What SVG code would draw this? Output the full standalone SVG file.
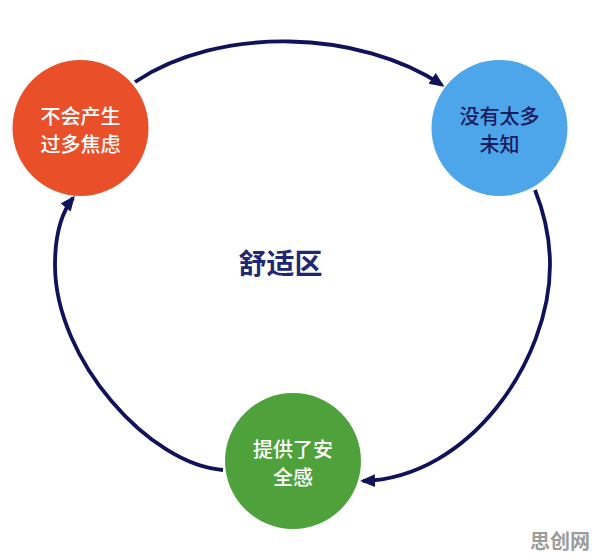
<svg xmlns="http://www.w3.org/2000/svg" width="596" height="559" viewBox="0 0 596 559">
<style>
.t{font-family:"Noto Sans CJK SC","Noto Sans",sans-serif;font-size:20px;font-weight:500;text-anchor:middle;dominant-baseline:central}
.w{fill:#ffffff}
.n{fill:#171c5e}
.c{fill:none;stroke:#10135a;stroke-width:3.8;stroke-linecap:butt}
</style>
<defs>
<marker id="ah" markerUnits="userSpaceOnUse" markerWidth="16" markerHeight="14" refX="12" refY="6.5" orient="auto" viewBox="0 0 16 14">
<path d="M0,0 L15,6.5 L0,13 Z" fill="#10135a"/>
</marker>
</defs>
<rect width="596" height="559" fill="#ffffff"/>
<g id="connectors">
<path class="c" d="M135,82 C220,25 360,30 442,85" marker-end="url(#ah)"/>
<path class="c" d="M535,190 C545,215 550,240 550,265 C550,360 470,478 363,481" marker-end="url(#ah)"/>
<path class="c" d="M223,470 C150,465 55,360 55,265 C55,235 62,212 73,198" marker-end="url(#ah)"/>
</g>
<g id="node-anxiety">
<circle cx="80.5" cy="128" r="68" fill="#e9502a"/>
<text class="t w" x="80.5" y="115">不会产生</text>
<text class="t w" x="80.5" y="143">过多焦虑</text>
</g>
<g id="node-unknown">
<circle cx="499.5" cy="128" r="68" fill="#4da5ea"/>
<text class="t n" x="499.5" y="115">没有太多</text>
<text class="t n" x="499.5" y="143">未知</text>
</g>
<g id="node-safety">
<circle cx="293" cy="461" r="68" fill="#4fa13b"/>
<text class="t w" x="293" y="448">提供了安</text>
<text class="t w" x="293" y="476">全感</text>
</g>
<g id="label-center">
<text class="t" x="280.5" y="262" style="font-size:28px;font-weight:700;fill:#1f2874">舒适区</text>
</g>
<text class="t" x="560" y="540" style="font-size:20px;font-weight:700;fill:#9c9c9c">思创网</text>
</svg>
